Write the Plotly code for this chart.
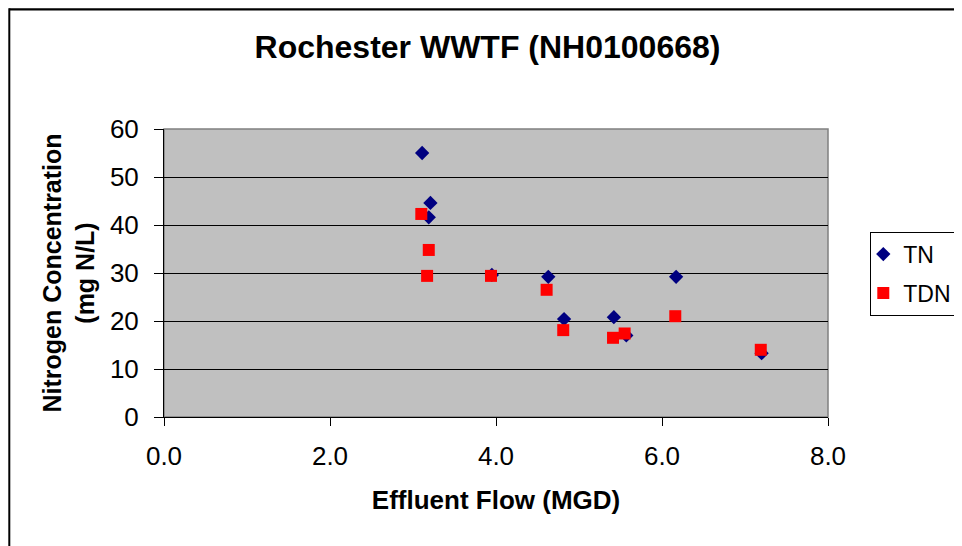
import plotly.graph_objects as go

# Data
tn_flow = [3.11, 3.21, 3.19, 3.95, 4.63, 4.82, 5.42, 5.57, 6.17, 7.20]
tn_conc = [55.0, 44.6, 41.6, 29.6, 29.2, 20.4, 20.8, 17.0, 29.2, 13.3]

tdn_flow = [3.10, 3.19, 3.17, 3.94, 4.61, 4.81, 5.41, 5.55, 6.16, 7.19]
tdn_conc = [42.3, 34.8, 29.4, 29.4, 26.5, 18.1, 16.5, 17.4, 21.0, 14.0]

x_ticks = [0, 2, 4, 6, 8]
y_ticks = [0, 10, 20, 30, 40, 50, 60]

FONT = "Liberation Sans, Arial, sans-serif"

fig = go.Figure()
fig.add_trace(go.Scatter(
    x=tn_flow, y=tn_conc, mode="markers", name="TN", legendgroup="a",
    marker=dict(symbol="diamond", size=11, color="#000080",
                line=dict(width=0))))
fig.add_trace(go.Scatter(
    x=tdn_flow, y=tdn_conc, mode="markers", name="TDN", legendgroup="b",
    marker=dict(symbol="square", size=12, color="#FF0000",
                line=dict(width=0))))

# page has an 8px body margin, so the figure is 8px smaller and shifted
OFF = 8
W, H = 962 - OFF, 546 - OFF
L, R, T, B = 163.7 - OFF, 134.3, 129 - OFF, 128.7
PW, PH = W - L - R, H - T - B

x_left = (1.0 - L) / PW
x_right = (W - L) / PW
y_top = 1 + (T - 1.0) / PH

fig.update_layout(
    width=W, height=H,
    margin=dict(l=L, r=R, t=T, b=B, autoexpand=False),
    paper_bgcolor="white",
    plot_bgcolor="#C0C0C0",
    font=dict(family=FONT, color="black", size=24),
    title=dict(text="<b>Rochester WWTF (NH0100668)</b>",
               x=(487.5 - OFF) / W, xref="container", xanchor="center",
               y=1 - (47 - OFF) / H, yref="container", yanchor="middle",
               font=dict(size=32, family=FONT, color="black")),
    showlegend=True,
    legend=dict(x=(870 - OFF - L) / PW, y=(417.3 - 231.7) / PH,
                xanchor="left", yanchor="top",
                bordercolor="black", borderwidth=1, bgcolor="white",
                font=dict(size=23, family=FONT, color="black"),
                tracegroupgap=6, itemwidth=30, indentation=-8),
    xaxis=dict(range=[0, 8], tickvals=x_ticks, tickformat=".1f",
               showgrid=False, zeroline=False,
               showline=True, linecolor="black", linewidth=1, mirror=False,
               ticks="outside", ticklen=8, tickcolor="black", tickwidth=1,
               ticklabelstandoff=8,
               tickfont=dict(size=26, family=FONT, color="black"),
               title=dict(text="<b>Effluent Flow (MGD)</b>", standoff=20,
                          font=dict(size=26, family=FONT, color="black"))),
    yaxis=dict(range=[0, 60], tickvals=y_ticks,
               showgrid=True, gridcolor="black", gridwidth=1, zeroline=False,
               showline=True, linecolor="black", linewidth=1,
               ticks="outside", ticklen=9, tickcolor="black", tickwidth=1,
               ticklabelstandoff=10,
               tickfont=dict(size=26, family=FONT, color="black"),
               title=dict(text="<b>Nitrogen Concentration<br>(mg N/L)</b>",
                          standoff=8,
                          font=dict(size=25, family=FONT, color="black"))),
    shapes=[
        # gray plot-area border
        dict(type="rect", xref="paper", yref="paper", x0=0, x1=1, y0=0, y1=1,
             line=dict(color="#808080", width=1.5), layer="below"),
        # outer chart border as a filled thin rectangle (top edge)
        dict(type="rect", xref="paper", yref="paper",
             x0=x_left, x1=x_right,
             y0=1 + (T - 2.5) / PH, y1=1 + (T - 0.0) / PH,
             fillcolor="black", line=dict(width=0)),
        # outer chart border: left edge
        dict(type="line", xref="paper", yref="paper",
             x0=x_left, x1=x_left, y0=-0.6, y1=1 + T / PH,
             line=dict(color="black", width=2)),
    ],
)

fig.write_html("out.html", config={"displayModeBar": False})
